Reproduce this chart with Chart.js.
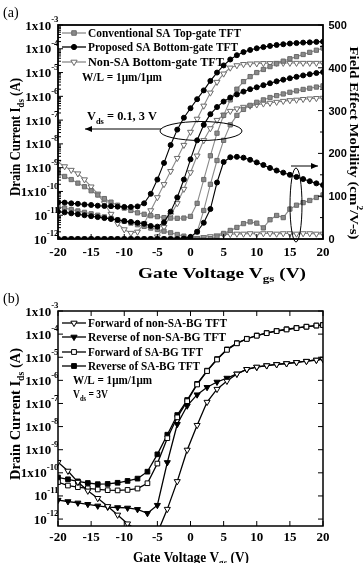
<!DOCTYPE html>
<html><head><meta charset="utf-8">
<script src="https://cdn.jsdelivr.net/npm/chart.js@4.4.0/dist/chart.umd.min.js"></script>
<style>
html,body{margin:0;padding:0;background:#fff;}
#wrap{position:relative;width:363px;height:563px;overflow:hidden;background:#fff;}
canvas{position:absolute;left:0;}
</style></head><body>
<div id="wrap">
<canvas id="ca" width="363" height="290" style="top:0px"></canvas>
<canvas id="cb" width="363" height="273" style="top:290px"></canvas>
</div>
<script>
// ---------- Panel (a) data : gate voltage (V) and log10 of drain current (A) ----------
const VA = [-20,-19,-18,-17,-16,-15,-14,-13,-12,-11,-10,-9,-8,-7,-6,-5,-4,-3,-2,-1,0,1,2,3,4,5,6,7,8,9,10,11,12,13,14,15,16,17,18,19,20];
// Conventional SA top-gate TFT (gray squares)
const convTG_3V  = [-9.22,-9.37,-9.5,-9.65,-9.8,-9.97,-10.15,-10.3,-10.45,-10.58,-10.7,-10.8,-10.9,-10.96,-11.02,-11.06,-11.1,-11.12,-11.13,-11.12,-11.05,-10.5,-9.5,-8.5,-7.55,-6.8,-6.15,-5.7,-5.38,-5.17,-5.0,-4.87,-4.75,-4.63,-4.52,-4.42,-4.33,-4.24,-4.15,-4.06,-3.97];
const convTG_01V = [-10.65,-10.7,-10.76,-10.82,-10.88,-10.94,-11.0,-11.07,-11.13,-11.2,-11.26,-11.33,-11.4,-11.47,-11.54,-11.6,-11.67,-11.74,-11.81,-11.88,-11.95,-11.7,-10.8,-9.7,-8.7,-7.85,-7.2,-6.8,-6.55,-6.38,-6.25,-6.15,-6.05,-5.97,-5.9,-5.83,-5.77,-5.71,-5.66,-5.61,-5.56];
// Proposed SA bottom-gate TFT (black circles)
const propBG_3V  = [-10.45,-10.47,-10.5,-10.52,-10.55,-10.57,-10.6,-10.61,-10.62,-10.64,-10.65,-10.65,-10.63,-10.5,-10.1,-9.5,-8.8,-8.05,-7.4,-6.9,-6.5,-6.12,-5.75,-5.35,-5.0,-4.7,-4.45,-4.27,-4.14,-4.05,-3.98,-3.93,-3.88,-3.84,-3.81,-3.78,-3.76,-3.74,-3.73,-3.71,-3.7];
const propBG_01V = [-10.85,-10.88,-10.92,-10.96,-11.0,-11.04,-11.08,-11.12,-11.16,-11.2,-11.24,-11.28,-11.32,-11.36,-11.45,-11.48,-11.3,-10.85,-10.25,-9.5,-8.65,-7.85,-7.2,-6.75,-6.45,-6.22,-6.05,-5.92,-5.8,-5.7,-5.62,-5.53,-5.45,-5.37,-5.3,-5.24,-5.18,-5.12,-5.07,-5.02,-4.98];
// Non-SA bottom-gate TFT (open triangles)
const nonSA_3V   = [-8.76,-8.95,-9.1,-9.25,-9.5,-9.8,-10.1,-10.5,-10.95,-11.35,-11.6,-11.75,-11.7,-11.35,-10.8,-10.25,-9.7,-9.15,-8.6,-8.05,-7.5,-6.95,-6.4,-5.85,-5.4,-5.05,-4.8,-4.7,-4.65,-4.63,-4.62,-4.61,-4.61,-4.6,-4.6,-4.6,-4.6,-4.6,-4.6,-4.6,-4.6];
const nonSA_01V  = [null,null,null,null,null,null,null,null,null,null,null,null,null,null,-12.4,-11.9,-11.5,-11.0,-10.5,-9.9,-9.2,-8.5,-7.85,-7.35,-7.0,-6.78,-6.62,-6.52,-6.45,-6.4,-6.35,-6.31,-6.28,-6.24,-6.2,-6.17,-6.15,-6.12,-6.1,-6.08,-6.07];
// Field effect mobility (cm2/V-s), right axis
const convTG_mu  = [0,0,0,0,0,0,0,0,0,0,0,0,0,0,0,0,0,0,0,0,0,0,0,1,5,13,20,27,36,40,37,26,45,55,50,70,79,85,90,97,103];
const propBG_mu  = [0,0,0,0,0,0,0,0,0,0,0,0,0,0,0,0,0,0,0,1,5,17,38,70,132,180,191,192,190,185,179,173,166,160,155,150,145,140,135,130,126];
const nonSA_mu   = [0,0,0,0,0,0,0,0,0,0,0,0,0,0,0,0,0,0,0,0,1,2,4,6,8,10,11,12,12,13,12,13,13,12,13,13,12,13,13,12,12];

// ---------- Panel (b) data : hysteresis, Vds = 3 V ----------
const VB = [-20,-18.5,-17,-15.5,-14,-12.5,-11,-9.5,-8,-6.5,-5,-3.5,-2,-0.5,1,2.5,4,5.5,7,8.5,10,11.5,13,14.5,16,17.5,19,20];
const fwdNonSA = [-9.54,-9.92,-10.4,-10.78,-11.1,-11.45,-11.82,-12.2,-12.5,-12.7,-12.6,-11.57,-10.37,-9.01,-7.94,-6.94,-6.38,-6.03,-5.72,-5.52,-5.42,-5.36,-5.31,-5.27,-5.22,-5.17,-5.12,-5.08];
const revNonSA = [-11.18,-11.24,-11.3,-11.36,-11.43,-11.48,-11.5,-11.52,-11.58,-11.75,-11.4,-9.55,-7.9,-7.1,-6.62,-6.3,-6.07,-5.9,-5.72,-5.53,-5.43,-5.36,-5.31,-5.27,-5.22,-5.17,-5.12,-5.08];
const fwdSA    = [-10.4,-10.55,-10.62,-10.67,-10.72,-10.75,-10.76,-10.74,-10.68,-10.45,-9.6,-8.5,-7.6,-6.9,-6.18,-5.6,-5.1,-4.68,-4.4,-4.21,-4.07,-3.96,-3.87,-3.8,-3.74,-3.68,-3.63,-3.61];
const revSA    = [-10.2,-10.28,-10.37,-10.44,-10.49,-10.48,-10.43,-10.35,-10.25,-9.95,-9.2,-8.35,-7.5,-6.85,-6.15,-5.58,-5.08,-4.66,-4.39,-4.2,-4.06,-3.95,-3.86,-3.79,-3.73,-3.68,-3.63,-3.6];

// ---------- tick / label definitions ----------
const xTicks = [-20,-15,-10,-5,0,5,10,15,20];
const decadesA = [-3,-4,-5,-6,-7,-8,-9,-10,-11,-12];
const decadesB = [-3,-4,-5,-6,-7,-8,-9,-10,-11,-12];
const muTicks = [0,100,200,300,400,500];

const SERIF = '"Liberation Serif","Times New Roman",serif';
const SANS = '"Liberation Sans",Arial,sans-serif';
const GRAY = '#8a8a8a', GRAYD = '#6a6a6a';

function pts(xs, logs){ return xs.map((v,i)=>({x:v, y: logs[i]===null ? null : Math.pow(10, logs[i])})); }
function lin(xs, ys){ return xs.map((v,i)=>({x:v, y:ys[i]})); }

function segW(ctx, segs, size, family, weight){
  let w=0;
  for(const s of segs){ const fs = s.k ? size*0.68 : size; ctx.font = weight+' '+fs+'px '+family; w += ctx.measureText(s.t).width; }
  return w;
}
function drawRich(ctx, segs, x, y, o){
  const size=o.size, family=o.family||SERIF, weight=o.weight||'bold';
  const w = segW(ctx, segs, size, family, weight);
  const sx = o.width ? o.width/w : 1;
  ctx.save();
  ctx.translate(x,y);
  if(o.rot) ctx.rotate(o.rot);
  ctx.scale(sx,1);
  ctx.fillStyle='#000'; ctx.textAlign='left'; ctx.textBaseline='alphabetic';
  let cx = o.align==='center' ? -w/2 : (o.align==='right' ? -w : 0);
  const dy0 = o.dy||0;
  for(const s of segs){
    const fs = s.k ? size*0.68 : size;
    ctx.font = weight+' '+fs+'px '+family;
    const dy = s.k==='sub' ? size*0.3 : (s.k==='sup' ? -size*0.55 : 0);
    ctx.fillText(s.t, cx, dy+dy0);
    cx += ctx.measureText(s.t).width;
  }
  ctx.restore();
}
function expLabel(e){ return e>=-10 ? [{t:'1x10'},{t:String(e),k:'sup'}] : [{t:'10'},{t:String(e),k:'sup'}]; }

function marker(ctx, style, x, y, fill, stroke, r, rot){
  ctx.save();
  ctx.fillStyle=fill; ctx.strokeStyle=stroke; ctx.lineWidth=1;
  Chart.helpers.drawPoint(ctx, {pointStyle:style, radius:r, rotation:rot||0, borderWidth:1}, x, y);
  ctx.restore();
}
function legendRow(ctx, y, lineColor, style, fill, stroke, r, rot, text, textEnd){
  ctx.save(); ctx.strokeStyle=lineColor; ctx.lineWidth=1.3;
  ctx.beginPath(); ctx.moveTo(62,y); ctx.lineTo(86,y); ctx.stroke(); ctx.restore();
  marker(ctx, style, 74, y, fill, stroke, r, rot);
  drawRich(ctx, [{t:text}], 88, y+4, {size:11.5, width:textEnd-88});
}
function arrow(ctx, x1, y1, x2, y2){
  const ang=Math.atan2(y2-y1,x2-x1);
  ctx.beginPath(); ctx.moveTo(x1,y1); ctx.lineTo(x2,y2); ctx.stroke();
  ctx.beginPath(); ctx.moveTo(x2,y2);
  ctx.lineTo(x2-7*Math.cos(ang)+3*Math.sin(ang), y2-7*Math.sin(ang)-3*Math.cos(ang));
  ctx.lineTo(x2-7*Math.cos(ang)-3*Math.sin(ang), y2-7*Math.sin(ang)+3*Math.cos(ang));
  ctx.closePath(); ctx.fill();
}

// ---------- Panel (a) ----------
const decoA = {
  id:'decoA',
  afterDatasetsDraw(chart){
    const ctx=chart.ctx, a=chart.chartArea, x=chart.scales.x, y=chart.scales.y, y2=chart.scales.y2;
    ctx.save();
    ctx.strokeStyle='#000'; ctx.fillStyle='#000';
    ctx.lineWidth=1.8; ctx.strokeRect(a.left,a.top,a.right-a.left,a.bottom-a.top);
    ctx.lineWidth=1; ctx.beginPath();
    for(const e of decadesA){
      const py=y.getPixelForValue(Math.pow(10,e)); ctx.moveTo(a.left,py); ctx.lineTo(a.left+5,py);
      if(e<-3) for(let m=2;m<10;m++){ const q=y.getPixelForValue(m*Math.pow(10,e)); ctx.moveTo(a.left,q); ctx.lineTo(a.left+3,q); }
    }
    for(let v=0; v<=500; v+=50){ const py=y2.getPixelForValue(v); const L=(v%100===0)?5:3; ctx.moveTo(a.right,py); ctx.lineTo(a.right-L,py); }
    for(const v of xTicks){ const px=x.getPixelForValue(v); ctx.moveTo(px,a.bottom); ctx.lineTo(px,a.bottom-5); }
    ctx.stroke();
    // tick labels
    for(const e of decadesA){ const py=y.getPixelForValue(Math.pow(10,e)); drawRich(ctx, expLabel(e), 58.5, py+4.5, {size:13, align:'right'}); }
    for(const v of xTicks){ drawRich(ctx, [{t:String(v)}], x.getPixelForValue(v), 255.5, {size:13, align:'center'}); }
    for(const v of muTicks){ drawRich(ctx, [{t:String(v)}], 328.5, y2.getPixelForValue(v)+4, {size:11, family:SANS}); }
    // axis titles
    drawRich(ctx, [{t:'Gate Voltage V'},{t:'gs',k:'sub'},{t:' (V)'}], 222, 278, {size:14, align:'center', width:168});
    drawRich(ctx, [{t:'Drain Current I'},{t:'ds',k:'sub'},{t:' (A)'}], 15, 137, {size:14, align:'center', width:118, rot:-Math.PI/2, dy:5});
    drawRich(ctx, [{t:'Field Effect Mobility (cm'},{t:'2',k:'sup'},{t:'/V-s)'}], 355, 143, {size:13, align:'center', width:193, rot:Math.PI/2, dy:5});
    drawRich(ctx, [{t:'(a)'}], 3, 17, {size:14, weight:'normal'});
    // legend
    legendRow(ctx, 33, GRAY, 'rect', GRAY, GRAYD, 3.2, 0, 'Conventional SA Top-gate TFT', 241);
    legendRow(ctx, 47, '#000', 'circle', '#000', '#000', 2.6, 0, 'Proposed SA Bottom-gate TFT', 238);
    legendRow(ctx, 62, GRAY, 'triangle', '#fff', GRAYD, 3.6, 180, 'Non-SA Bottom-gate TFT', 224);
    drawRich(ctx, [{t:'W/L = 1\u03bcm/1\u03bcm'}], 82, 81, {size:11.5, width:80});
    // annotations
    drawRich(ctx, [{t:'V'},{t:'ds',k:'sub'},{t:' = 0.1, 3 V'}], 87, 120, {size:12.5, width:70});
    ctx.lineWidth=1;
    arrow(ctx, 161, 129, 85, 129);
    ctx.beginPath(); ctx.ellipse(201,131,41,9.5,0,0,2*Math.PI); ctx.stroke();
    ctx.beginPath(); ctx.ellipse(296,205,6,37,0,0,2*Math.PI); ctx.stroke();
    arrow(ctx, 291, 166, 318, 166);
    ctx.restore();
  }
};

function dsA(label, data, axis, style, fill, stroke, line, r, rot){
  return {label, data, yAxisID:axis, borderColor:line, backgroundColor:fill, pointBorderColor:stroke,
    pointBackgroundColor:fill, pointStyle:style, pointRadius:r, pointRotation:rot||0, pointBorderWidth:1,
    borderWidth:1.1, tension:0, showLine:true};
}

new Chart(document.getElementById('ca'), {
  type:'line',
  data:{datasets:[
    dsA('Proposed SA BG mobility', lin(VA,propBG_mu), 'y2', 'circle', '#000', '#000', '#000', 2.5),
    dsA('Conventional SA TG mobility', lin(VA,convTG_mu), 'y2', 'rect', GRAY, GRAYD, GRAY, 3),
    dsA('Non-SA BG mobility', lin(VA,nonSA_mu), 'y2', 'triangle', '#fff', GRAYD, GRAY, 3.4, 180),
    dsA('Proposed SA BG 3V', pts(VA,propBG_3V), 'y', 'circle', '#000', '#000', '#000', 2.5),
    dsA('Proposed SA BG 0.1V', pts(VA,propBG_01V), 'y', 'circle', '#000', '#000', '#000', 2.5),
    dsA('Conventional SA TG 3V', pts(VA,convTG_3V), 'y', 'rect', GRAY, GRAYD, GRAY, 3),
    dsA('Conventional SA TG 0.1V', pts(VA,convTG_01V), 'y', 'rect', GRAY, GRAYD, GRAY, 3),
    dsA('Non-SA BG 3V', pts(VA,nonSA_3V), 'y', 'triangle', '#fff', GRAYD, GRAY, 3.4, 180),
    dsA('Non-SA BG 0.1V', pts(VA,nonSA_01V), 'y', 'triangle', '#fff', GRAYD, GRAY, 3.4, 180)
  ]},
  options:{
    responsive:false, animation:false, devicePixelRatio:1,
    layout:{padding:{left:58, right:40, top:25, bottom:51}},
    plugins:{legend:{display:false}, tooltip:{enabled:false}},
    scales:{
      x:{type:'linear', min:-20, max:20, display:false},
      y:{type:'logarithmic', min:1e-12, max:1e-3, display:false},
      y2:{type:'linear', min:0, max:500, display:false}
    }
  },
  plugins:[decoA]
});

// ---------- Panel (b) ----------
const decoB = {
  id:'decoB',
  afterDatasetsDraw(chart){
    const ctx=chart.ctx, a=chart.chartArea, x=chart.scales.x, y=chart.scales.y;
    ctx.save();
    ctx.strokeStyle='#000'; ctx.fillStyle='#000';
    ctx.lineWidth=1.5; ctx.strokeRect(a.left,a.top,a.right-a.left,a.bottom-a.top);
    ctx.lineWidth=1; ctx.beginPath();
    for(const e of decadesB){
      const py=y.getPixelForValue(Math.pow(10,e));
      ctx.moveTo(a.left,py); ctx.lineTo(a.left+5,py);
      ctx.moveTo(a.right,py); ctx.lineTo(a.right-5,py);
    }
    for(const v of xTicks){ const px=x.getPixelForValue(v);
      ctx.moveTo(px,a.bottom); ctx.lineTo(px,a.bottom-5);
      ctx.moveTo(px,a.top); ctx.lineTo(px,a.top+5); }
    ctx.stroke();
    for(const e of decadesB){ const py=y.getPixelForValue(Math.pow(10,e)); drawRich(ctx, expLabel(e), 58.5, py+4.5, {size:13, align:'right'}); }
    for(const v of xTicks){ drawRich(ctx, [{t:String(v)}], x.getPixelForValue(v), 250.5, {size:13, align:'center'}); }
    drawRich(ctx, [{t:'Gate Voltage V'},{t:'gs',k:'sub'},{t:' (V)'}], 191, 272, {size:14, align:'center', width:116});
    drawRich(ctx, [{t:'Drain Current I'},{t:'ds',k:'sub'},{t:' (A)'}], 15, 124, {size:14, align:'center', width:132, rot:-Math.PI/2, dy:5});
    drawRich(ctx, [{t:'(b)'}], 3, 13, {size:14, weight:'normal'});
    legendRow(ctx, 33, '#000', 'triangle', '#fff', '#000', 3.6, 180, 'Forward of non-SA-BG TFT', 227);
    legendRow(ctx, 47, '#000', 'triangle', '#000', '#000', 3.6, 180, 'Reverse of non-SA-BG TFT', 226);
    legendRow(ctx, 62, '#000', 'rect', '#fff', '#000', 3.4, 0, 'Forward of SA-BG TFT', 203);
    legendRow(ctx, 76, '#000', 'rect', '#000', '#000', 3.4, 0, 'Reverse of SA-BG TFT', 200);
    drawRich(ctx, [{t:'W/L = 1\u03bcm/1\u03bcm'}], 73, 94, {size:11.5, width:79});
    drawRich(ctx, [{t:'V'},{t:'ds',k:'sub'},{t:' = 3V'}], 73, 108, {size:11.5, width:35});
    ctx.restore();
  }
};

function dsB(label, data, style, fill, r){
  return {label, data, borderColor:'#000', backgroundColor:fill, pointBorderColor:'#000', pointBackgroundColor:fill,
    pointStyle:style, pointRadius:r, pointRotation:style==='triangle'?180:0, pointBorderWidth:1, borderWidth:1.3, tension:0};
}

new Chart(document.getElementById('cb'), {
  type:'line',
  data:{datasets:[
    dsB('Forward of non-SA-BG TFT', pts(VB,fwdNonSA), 'triangle', '#fff', 3.5),
    dsB('Reverse of non-SA-BG TFT', pts(VB,revNonSA), 'triangle', '#000', 3.5),
    dsB('Forward of SA-BG TFT', pts(VB,fwdSA), 'rect', '#fff', 3.3),
    dsB('Reverse of SA-BG TFT', pts(VB,revSA), 'rect', '#000', 3.3)
  ]},
  options:{
    responsive:false, animation:false, devicePixelRatio:1,
    layout:{padding:{left:58, right:40, top:21, bottom:37}},
    plugins:{legend:{display:false}, tooltip:{enabled:false}},
    scales:{
      x:{type:'linear', min:-20, max:20, display:false},
      y:{type:'logarithmic', min:Math.pow(10,-12.3), max:1e-3, display:false}
    }
  },
  plugins:[decoB]
});
</script></body></html>
